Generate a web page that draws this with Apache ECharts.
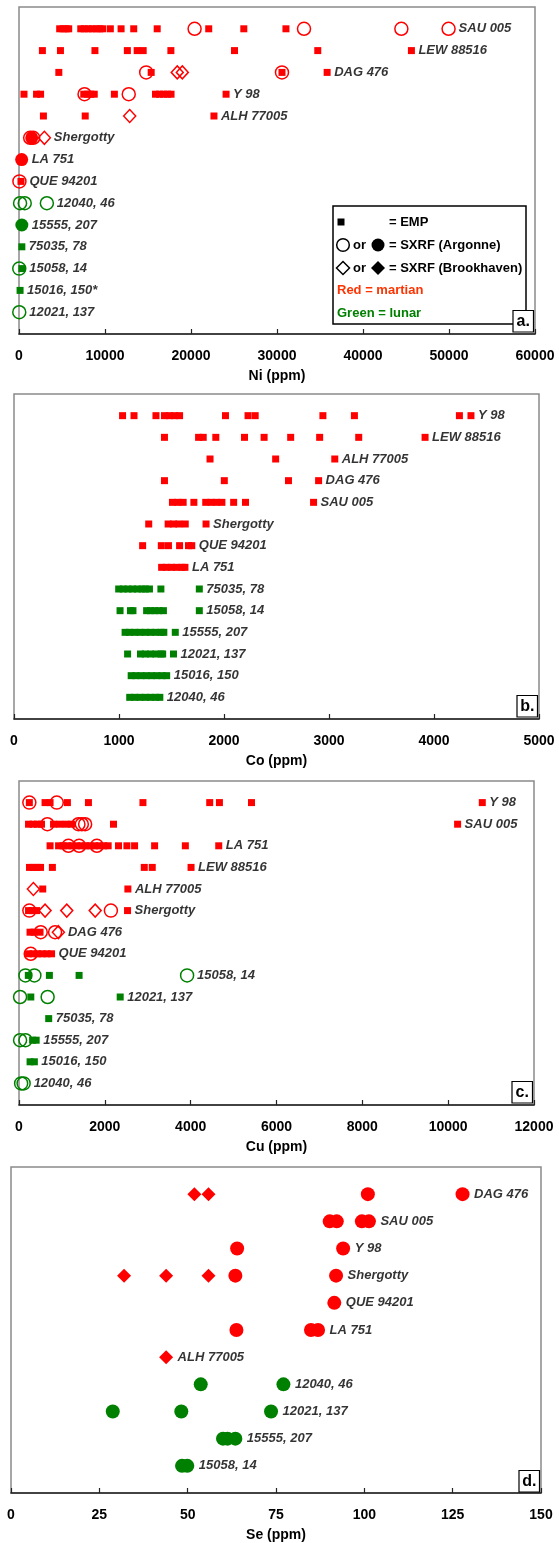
<!DOCTYPE html>
<html><head><meta charset="utf-8">
<script src="https://cdn.jsdelivr.net/npm/echarts@6/dist/echarts.min.js"></script>
<style>html,body{margin:0;padding:0;background:#fff}#c{width:559px;height:1543px}</style>
</head><body><div id="c"></div>
<script>
const RED = '#FF0000', GREEN = '#008000';
const FONT = '"Liberation Sans", Arial, sans-serif';

// ---------- Panel a: Ni (ppm) ----------
const niRows = ["SAU 005","LEW 88516","DAG 476","Y 98","ALH 77005","Shergotty","LA 751","QUE 94201","12040, 46","15555, 207","75035, 78","15058, 14","15016, 150*","12021, 137"];
const niEMP = [
  [4730,5140,5490,5780,7180,7590,8050,8520,8990,9390,9740,10620,11870,13340,16070,22060,26140,31040],
  [2720,4820,8830,12600,13740,14440,17660,25060,34740,45630],
  [4630,15370,30580,35830],
  [580,2040,2510,7530,7940,8340,8750,11090,15870,16340,16800,17270,17680,24080],
  [2840,7700,22670],
  [],
  [310],
  [230],
  [],
  [330],
  [330],
  [330],
  [125],
  []
];
const niArgOpen = [[20420,33140,44460,49950],[],[14790,30580],[7620,12760],[],[1300,1650],[],[50],[125,665,3240],[],[],[30],[],[30]];
const niArgFilled = [[],[],[],[],[],[1480],[310],[],[],[330],[],[],[],[]];
const niBrkOpen = [[],[],[18400,18990],[],[12870],[2950],[],[],[],[],[],[],[],[]];

// ---------- Panel b: Co (ppm) ----------
const coRows = ["Y 98","LEW 88516","ALH 77005","DAG 476","SAU 005","Shergotty","QUE 94201","LA 751","75035, 78","15058, 14","15555, 207","12021, 137","15016, 150","12040, 46"];
const coEMP = [
  [1034,1143,1352,1433,1480,1530,1577,2014,2229,2297,2942,3242,4242,4352],
  [1433,1758,1802,1922,2195,2382,2635,2911,3283,3915],
  [1867,2492,3055],
  [1433,2003,2614,2901],
  [1509,1560,1611,1713,1826,1877,1928,1980,2092,2205,2853],
  [1283,1468,1519,1570,1631,1829],
  [1225,1403,1471,1577,1662,1693],
  [1406,1450,1500,1550,1600,1628],
  [997,1040,1085,1130,1175,1220,1250,1290,1399,1765],
  [1010,1109,1133,1263,1300,1340,1380,1423,1765],
  [1058,1100,1150,1200,1250,1300,1350,1400,1427,1536],
  [1082,1205,1250,1300,1350,1400,1416,1519],
  [1116,1160,1210,1260,1310,1360,1410,1454],
  [1102,1150,1200,1250,1300,1350,1389]
];

// ---------- Panel c: Cu (ppm) ----------
const cuRows = ["Y 98","SAU 005","LA 751","LEW 88516","ALH 77005","Shergotty","DAG 476","QUE 94201","15058, 14","12021, 137","75035, 78","15555, 207","15016, 150","12040, 46"];
const cuEMP = [
  [241,607,724,1128,1618,2888,4444,4670,5417,10795],
  [222,330,430,525,805,950,1100,1226,2202,10220],
  [724,922,1027,1132,1237,1343,1448,1553,1658,1763,1868,1973,2078,2319,2514,2693,3160,3876,4654],
  [245,330,420,502,778,2919,3105,4009],
  [553,2537],
  [222,310,409,2529],
  [257,350,490],
  [222,330,430,540,650,759],
  [217,708,1400],
  [275,2358],
  [692],
  [317,400],
  [258,358],
  []
];
const cuArgOpen = [[241,880],[661,1385,1464,1541],[1152,1401,1814],[],[],[241,2141],[506,841],[273],[150,358,3917],[25,667],[],[25,150],[],[50,108]];
const cuBrkOpen = [[],[],[],[],[335],[607,1113,1775],[918],[],[],[],[],[],[],[]];

// ---------- Panel d: Se (ppm) ----------
const seRows = ["DAG 476","SAU 005","Y 98","Shergotty","QUE 94201","LA 751","ALH 77005","12040, 46","12021, 137","15555, 207","15058, 14"];
const seArgFilled = [[101,127.8],[90.2,92.2,99.3,101.3],[64,94],[63.5,92],[91.5],[63.8,84.9,86.9],[],[53.7,77.1],[28.8,48.2,73.6],[60,61.3,63.5],[48.4,49.9]];
const seBrkFilled = [[51.9,55.9],[],[],[32,43.9,55.9],[],[],[43.9],[],[],[],[]];

// ---------- layout ----------
const grids = [
  {left:19, top:7, width:516, height:327},
  {left:14, top:394, width:525, height:325},
  {left:19, top:781, width:515, height:324},
  {left:11, top:1167, width:530, height:327}
];
const axes = [
  {name:'Ni (ppm)', max:60000, interval:10000},
  {name:'Co (ppm)', max:5000, interval:1000},
  {name:'Cu (ppm)', max:12000, interval:2000},
  {name:'Se (ppm)', max:150, interval:25}
];
const letters = ['a.','b.','c.','d.'];

const KINDS = {
  emp: {symbol:'rect', size:[7,7], half:3.5, fill:true, z:5},
  oc:  {symbol:'circle', size:13, half:6.5, fill:false, z:3},
  fc:  {symbol:'circle', size:13, half:6.5, fill:true, z:4},
  od:  {symbol:'diamond', size:[12,13], half:6, fill:false, z:3},
  fcL: {symbol:'circle', size:14, half:7, fill:true, z:4},
  fdL: {symbol:'diamond', size:[14,14], half:7, fill:true, z:4}
};

const isLunar = n => /^\d/.test(n);
const series = [];

function buildPanel(gi, rows, sets) {
  const N = rows.length;
  const pxPer = grids[gi].width / axes[gi].max;
  sets.forEach(([kind, arr]) => {
    const k = KINDS[kind];
    [RED, GREEN].forEach(col => {
      const data = [];
      arr.forEach((vals, i) => {
        const c = isLunar(rows[i]) ? GREEN : RED;
        if (c !== col) return;
        vals.forEach(v => data.push([v, N - i]));
      });
      if (!data.length) return;
      series.push({
        type:'scatter', xAxisIndex:gi, yAxisIndex:gi, data, symbol:k.symbol, symbolSize:k.size,
        z:k.z, silent:true, animation:false,
        itemStyle: k.fill ? {color:col, opacity:1} : {color:'rgba(255,255,255,0)', borderColor:col, borderWidth:1.5, opacity:1}
      });
    });
  });
  // row labels to the right of the right-most marker
  const ldata = rows.map((name, i) => {
    let best = null;
    sets.forEach(([kind, arr]) => {
      const k = KINDS[kind];
      arr[i].forEach(v => {
        const edge = v * pxPer + k.half;
        if (!best || edge > best.edge) best = {edge, v, half:k.half};
      });
    });
    return {value:[best.v, N - i], name, label:{distance: best.half + (gi === 3 ? 4 : 3)}};
  });
  series.push({
    type:'scatter', xAxisIndex:gi, yAxisIndex:gi, data:ldata, symbolSize:1, z:10, silent:true, animation:false,
    itemStyle:{color:'rgba(0,0,0,0)'},
    label:{show:true, position:'right', formatter:p => p.name, color:'#000', fontFamily:FONT,
      fontWeight:'bold', fontStyle:'italic', fontSize:13}
  });
}

buildPanel(0, niRows, [['oc', niArgOpen], ['od', niBrkOpen], ['fc', niArgFilled], ['emp', niEMP]]);
buildPanel(1, coRows, [['emp', coEMP]]);
buildPanel(2, cuRows, [['oc', cuArgOpen], ['od', cuBrkOpen], ['emp', cuEMP]]);
buildPanel(3, seRows, [['fcL', seArgFilled], ['fdL', seBrkFilled]]);

const rowCounts = [niRows.length, coRows.length, cuRows.length, seRows.length];

const graphic = [];
// panel letter boxes
grids.forEach((g, i) => {
  const right = g.left + g.width, bottom = g.top + g.height;
  graphic.push({type:'rect', z:20, shape:{x:right - 22, y:bottom - 23.5, width:20.5, height:21.5},
    style:{fill:'#fff', stroke:'#000', lineWidth:1.2}});
  graphic.push({type:'text', z:21, x:right - 11.75, y:bottom - 12.5,
    style:{text:letters[i], fill:'#000', fontFamily:FONT, fontWeight:'bold', fontSize:16, align:'center', verticalAlign:'middle'}});
});
// legend in panel a
const LX = 333, LY = 206;
const tStyle = (t, x, y, col) => ({type:'text', z:16, x, y, style:{text:t, fill:col || '#000', fontFamily:FONT, fontWeight:'bold', fontSize:13, align:'left', verticalAlign:'middle'}});
graphic.push({type:'rect', z:15, shape:{x:LX, y:LY, width:193, height:118}, style:{fill:'#fff', stroke:'#000', lineWidth:1.5}});
graphic.push({type:'rect', z:16, shape:{x:337.5, y:218.5, width:7, height:7}, style:{fill:'#000'}});
graphic.push(tStyle('= EMP', 389, 222));
graphic.push({type:'circle', z:16, shape:{cx:343, cy:245, r:6.3}, style:{fill:'#fff', stroke:'#000', lineWidth:1.5}});
graphic.push(tStyle('or', 353, 245));
graphic.push({type:'circle', z:16, shape:{cx:378, cy:245, r:6.5}, style:{fill:'#000'}});
graphic.push(tStyle('= SXRF (Argonne)', 389, 245));
graphic.push({type:'polygon', z:16, shape:{points:[[343,261.5],[349.5,268],[343,274.5],[336.5,268]]}, style:{fill:'#fff', stroke:'#000', lineWidth:1.5}});
graphic.push(tStyle('or', 353, 268));
graphic.push({type:'polygon', z:16, shape:{points:[[378,261],[385,268],[378,275],[371,268]]}, style:{fill:'#000'}});
graphic.push(tStyle('= SXRF (Brookhaven)', 389, 268));
graphic.push(tStyle('Red = martian', 337, 290, '#FF3300'));
graphic.push(tStyle('Green = lunar', 337, 313, GREEN));

const option = {
  backgroundColor:'#fff',
  animation:false,
  grid: grids.map(g => Object.assign({show:true, borderColor:'#8a8a8a', borderWidth:1.5, backgroundColor:'rgba(0,0,0,0)', containLabel:false}, g)),
  xAxis: axes.map((a, i) => ({
    type:'value', gridIndex:i, min:0, max:a.max, interval:a.interval,
    name:a.name, nameLocation:'middle', nameGap:35,
    nameTextStyle:{fontFamily:FONT, fontWeight:'bold', fontSize:14, color:'#000'},
    axisLine:{show:true, lineStyle:{color:'#222', width:1.5}},
    axisTick:{show:true, inside:true, length:5, lineStyle:{color:'#222', width:1.2}},
    axisLabel:{margin:15, fontFamily:FONT, fontWeight:'bold', fontSize:14, color:'#000', formatter:v => String(v)},
    splitLine:{show:false}
  })),
  yAxis: rowCounts.map((n, i) => ({
    type:'value', gridIndex:i, min:0, max:n + 1, show:false, splitLine:{show:false}
  })),
  series,
  graphic
};

const chart = echarts.init(document.getElementById('c'), null, {renderer:'canvas'});
chart.setOption(option);
</script>
</body></html>
